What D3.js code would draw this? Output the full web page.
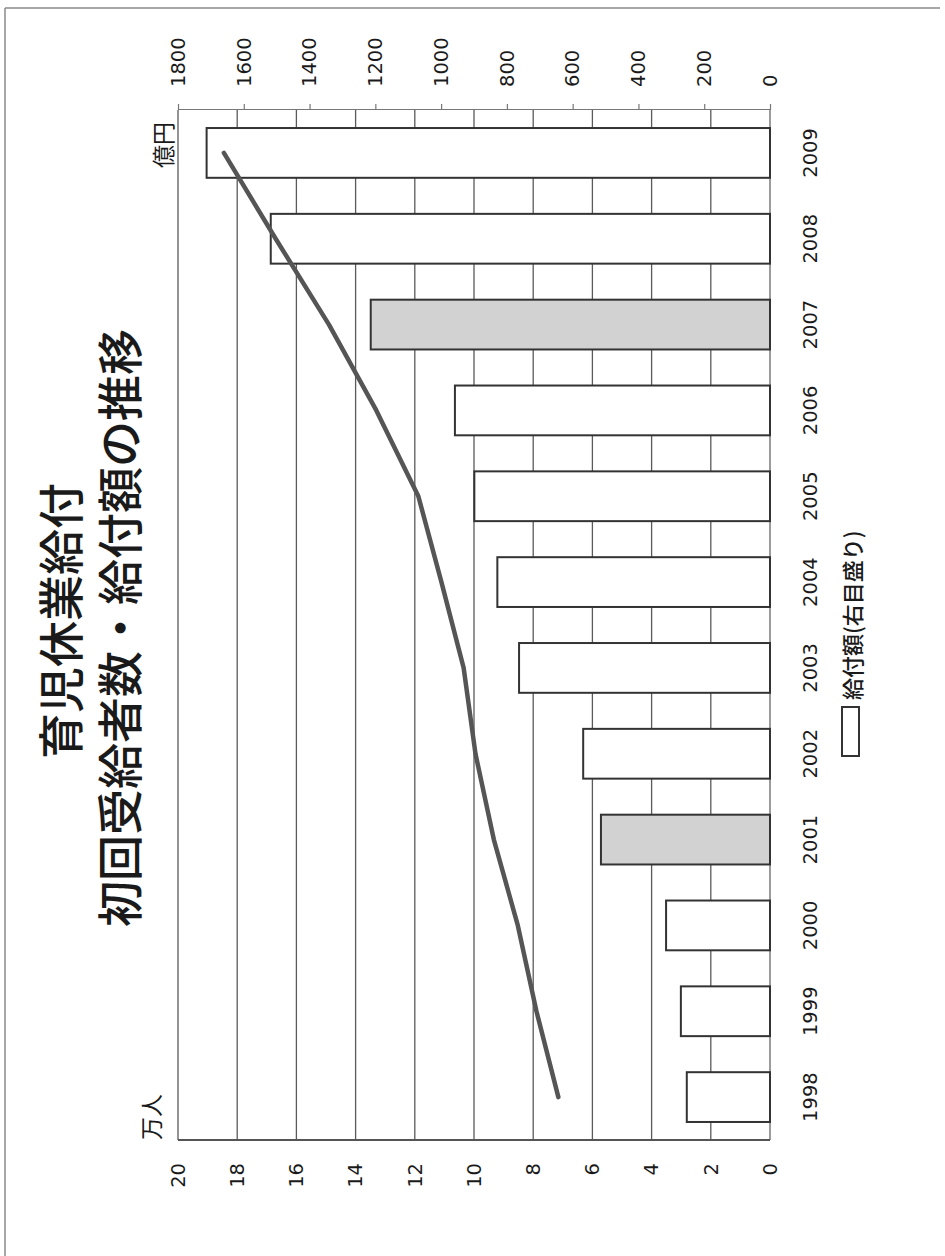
<!DOCTYPE html>
<html>
<head>
<meta charset="utf-8">
<script src="https://cdn.jsdelivr.net/npm/d3@7/dist/d3.min.js"></script>
<style>
  html, body { margin: 0; padding: 0; background: #fff; }
  svg { display: block; }
</style>
</head>
<body>
<svg id="chart" width="945" height="1256"></svg>
<script>
// Fiscal years on the category axis
const years = ['1998','1999','2000','2001','2002','2003','2004','2005','2006','2007','2008','2009'];
// Benefit paid, 億円 (bars, right scale)
const amounts = [253, 271, 316, 514, 568, 763, 829, 899, 958, 1214, 1518, 1713];
// First-time recipients, 万人 (line, left scale)
const recipients = [7.15, 7.89, 8.52, 9.33, 9.95, 10.35, 11.1, 11.88, 13.3, 14.9, 16.7, 18.45];
// Years whose bars are shaded
const shadedYears = ['2001', '2007'];
// Tick values
const leftTicks = [0, 2, 4, 6, 8, 10, 12, 14, 16, 18, 20];
const rightTicks = [0, 200, 400, 600, 800, 1000, 1200, 1400, 1600, 1800];

const titleLines = ['育児休業給付', '初回受給者数・給付額の推移'];
const legendLabel = '給付額(右目盛り)';

const svg = d3.select('#chart');
const W = 945, H = 1256;

// page frame
svg.append('line').attr('x1', 5).attr('y1', 8).attr('x2', 940).attr('y2', 8)
  .attr('stroke', '#8a8a8a').attr('stroke-width', 1.5);
svg.append('line').attr('x1', 5).attr('y1', 8).attr('x2', 5).attr('y2', H)
  .attr('stroke', '#8a8a8a').attr('stroke-width', 1.5);

// The chart is laid out landscape and turned a quarter turn counter-clockwise.
const g = svg.append('g').attr('transform', `translate(0,${H}) rotate(-90)`);

const plot = { left: 116, right: 1146, top: 178, bottom: 770 };
const numFont = '"DejaVu Sans", Verdana, sans-serif';
const cjkFont = '"Noto Sans CJK JP", "Noto Sans", sans-serif';
const textColor = '#1a1a1a';

const x = d3.scaleBand().domain(years)
  .range([plot.left, plot.right]).paddingInner(0.42).paddingOuter(0.21);
const yL = d3.scaleLinear().domain([0, 20]).range([plot.bottom, plot.top]);
const yR = d3.scaleLinear().domain([0, 1800]).range([plot.bottom, plot.top]);

// horizontal gridlines on the left scale
g.append('g').selectAll('line').data(leftTicks.filter(d => d > 0)).join('line')
  .attr('x1', plot.left).attr('x2', plot.right)
  .attr('y1', d => yL(d)).attr('y2', d => yL(d))
  .attr('stroke', '#5a5a5a').attr('stroke-width', 1.3);

// category baseline
g.append('line').attr('x1', plot.left).attr('x2', plot.right)
  .attr('y1', plot.bottom).attr('y2', plot.bottom)
  .attr('stroke', '#666').attr('stroke-width', 1.3);

// bars
g.append('g').selectAll('rect').data(years).join('rect')
  .attr('x', d => x(d))
  .attr('width', x.bandwidth())
  .attr('y', (d, i) => yR(amounts[i]))
  .attr('height', (d, i) => yR(0) - yR(amounts[i]))
  .attr('fill', d => shadedYears.includes(d) ? '#d2d2d2' : '#fff')
  .attr('stroke', '#333').attr('stroke-width', 2);

// left value axis line
g.append('line').attr('x1', plot.left).attr('x2', plot.left)
  .attr('y1', plot.top).attr('y2', plot.bottom)
  .attr('stroke', '#555').attr('stroke-width', 2);

// recipients line
const line = d3.line()
  .x((d, i) => x(years[i]) + x.bandwidth() / 2)
  .y(d => yL(d));
g.append('path').datum(recipients)
  .attr('d', line)
  .attr('fill', 'none').attr('stroke', '#555').attr('stroke-width', 4.5)
  .attr('stroke-linecap', 'round').attr('stroke-linejoin', 'round');

// left axis labels (万人)
const axL = g.append('g').attr('transform', `translate(${plot.left},0)`)
  .call(d3.axisLeft(yL).tickValues(leftTicks).tickSize(0).tickPadding(23).tickFormat(d3.format('d')));
axL.select('.domain').remove();
axL.selectAll('text').attr('font-family', numFont).attr('font-size', 19.5).attr('fill', textColor);

// right axis (億円)
const axR = g.append('g').attr('transform', `translate(${plot.right},0)`)
  .call(d3.axisRight(yR).tickValues(rightTicks).tickSizeInner(6).tickSizeOuter(0)
    .tickPadding(17).tickFormat(d3.format('d')));
axR.select('.domain').attr('stroke', '#777').attr('stroke-width', 1.2);
axR.selectAll('.tick line').attr('stroke', '#777').attr('stroke-width', 1.2);
axR.selectAll('text').attr('font-family', numFont).attr('font-size', 19.5).attr('fill', textColor);

// category axis labels
const axB = g.append('g').attr('transform', `translate(0,${plot.bottom})`)
  .call(d3.axisBottom(x).tickSize(0).tickPadding(33));
axB.select('.domain').remove();
axB.selectAll('text').attr('font-family', numFont).attr('font-size', 19.5).attr('fill', textColor);

// unit labels
g.append('text').attr('x', plot.left).attr('y', 150)
  .attr('dominant-baseline', 'central').attr('text-anchor', 'start')
  .attr('font-family', cjkFont).attr('font-size', 23).attr('fill', textColor)
  .text('万人');
g.append('text').attr('x', plot.right - 12).attr('y', 162)
  .attr('dominant-baseline', 'central').attr('text-anchor', 'end')
  .attr('font-family', cjkFont).attr('font-size', 23).attr('fill', textColor)
  .text('億円');

// title
g.append('text').attr('x', 635).attr('y', 58)
  .attr('dominant-baseline', 'central').attr('text-anchor', 'middle')
  .attr('font-family', cjkFont).attr('font-size', 46).attr('font-weight', 500).attr('fill', textColor)
  .text(titleLines[0]);
g.append('text').attr('x', 628).attr('y', 117)
  .attr('dominant-baseline', 'central').attr('text-anchor', 'middle')
  .attr('font-family', cjkFont).attr('font-size', 46).attr('font-weight', 500).attr('fill', textColor)
  .text(titleLines[1]);

// legend
g.append('rect').attr('x', 500).attr('y', 842).attr('width', 49).attr('height', 17)
  .attr('fill', '#fff').attr('stroke', '#333').attr('stroke-width', 2);
g.append('text').attr('x', 556).attr('y', 851)
  .attr('dominant-baseline', 'central')
  .attr('font-family', cjkFont).attr('font-size', 22).attr('font-weight', 500).attr('fill', textColor)
  .text(legendLabel);
</script>
</body>
</html>
